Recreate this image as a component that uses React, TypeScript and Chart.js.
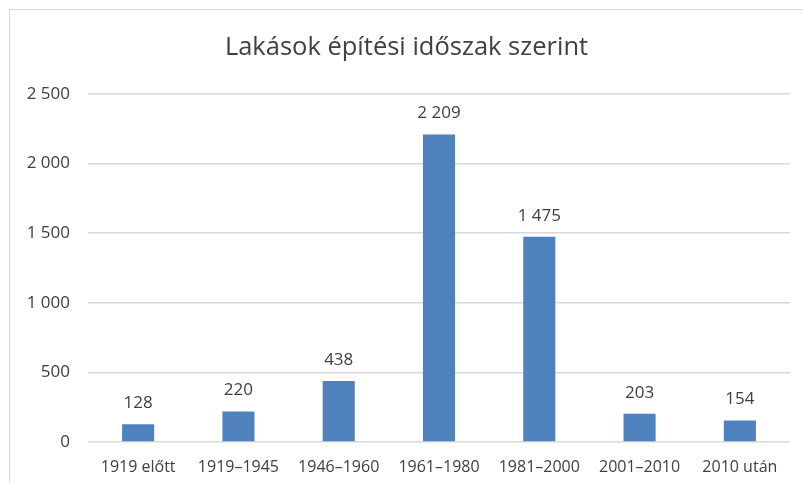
import React, { useEffect, useRef } from "react";
import { Chart, registerables } from "chart.js";

Chart.register(...registerables);

const categories = ["1919 előtt", "1919–1945", "1946–1960", "1961–1980", "1981–2000", "2001–2010", "2010 után"];
const values = [128, 220, 438, 2209, 1475, 203, 154];
const yTicks = [0, 500, 1000, 1500, 2000, 2500];
const titleText = "Lakások építési időszak szerint";

const FONT = "'Open Sans', sans-serif";
const TEXT = "#404040";

const fmt = (v: number) => String(Math.round(v)).replace(/\B(?=(\d{3})+(?!\d))/g, " ");

const labelPlugin = {
  id: "barLabels",
  afterDatasetsDraw(chart: any) {
    const ctx = chart.ctx;
    const meta = chart.getDatasetMeta(0);
    ctx.save();
    ctx.font = `17px ${FONT}`;
    ctx.fillStyle = TEXT;
    ctx.textAlign = "center";
    ctx.textBaseline = "middle";
    meta.data.forEach((bar: any, i: number) => {
      ctx.fillText(fmt(values[i]), bar.x, bar.y - 21);
    });
    ctx.restore();
  },
};

export default function App() {
  const ref = useRef<HTMLCanvasElement>(null);
  useEffect(() => {
    if (!ref.current) return;
    const chart = new Chart(ref.current, {
      type: "bar",
      data: {
        labels: categories,
        datasets: [
          {
            data: values,
            backgroundColor: "#4F81BD",
            barPercentage: 0.64,
            categoryPercentage: 0.5,
          },
        ],
      },
      options: {
        animation: false,
        responsive: false,
        maintainAspectRatio: false,
        layout: { padding: 0 },
        plugins: {
          legend: { display: false },
          tooltip: { enabled: false },
          title: {
            display: true,
            text: titleText,
            color: TEXT,
            font: { family: FONT, size: 25.5, weight: "normal" as any, lineHeight: 1.2 },
            padding: { top: 22, bottom: 31.4 },
          },
        },
        scales: {
          x: {
            grid: { display: false, drawTicks: false },
            border: { display: false },
            ticks: { color: TEXT, font: { family: FONT, size: 16 }, padding: 16, maxRotation: 0, autoSkip: false },
            afterFit: (s: any) => { s.height = 41; },
          },
          y: {
            min: 0,
            max: 2500,
            afterBuildTicks: (s: any) => { s.ticks = yTicks.map((v) => ({ value: v })); },
            grid: { color: "#d9d9d9", lineWidth: 1.5, drawTicks: false },
            border: { display: false },
            ticks: { color: TEXT, font: { family: FONT, size: 17 }, padding: 18, callback: (v: any) => fmt(Number(v)) },
            afterFit: (s: any) => { s.width = 78; },
          },
          yRight: {
            position: "right",
            min: 0,
            max: 2500,
            grid: { display: false, drawTicks: false },
            border: { display: false },
            ticks: { display: false },
            afterFit: (s: any) => { s.width = 13; },
          },
        },
      },
      plugins: [labelPlugin],
    });
    return () => chart.destroy();
  }, []);
  return (
    <div
      style={{
        position: "absolute",
        left: 9,
        top: 9,
        borderLeft: "1px solid #d9d9d9",
        borderTop: "1px solid #d9d9d9",
        background: "#fff",
      }}
    >
      <canvas ref={ref} width={793} height={473} style={{ display: "block" }} />
    </div>
  );
}
